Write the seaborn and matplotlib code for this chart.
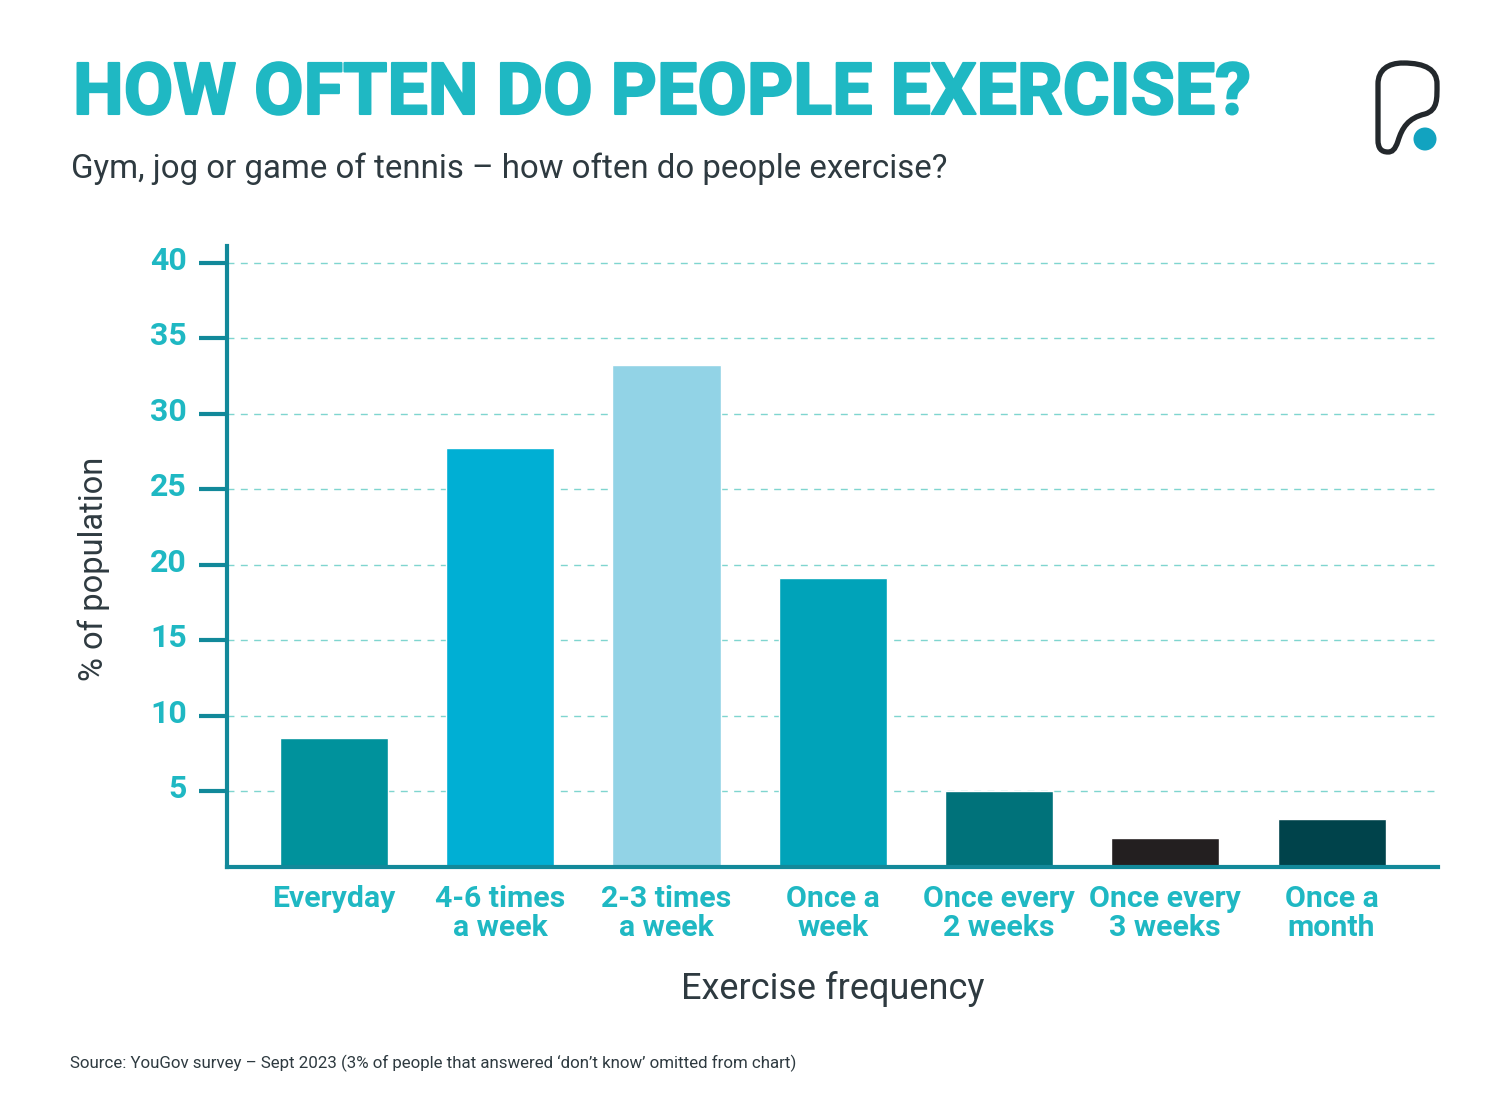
import matplotlib
matplotlib.use("Agg")
import matplotlib.patheffects as pe
import matplotlib.pyplot as plt
from matplotlib.patches import Circle, PathPatch
from matplotlib.path import Path
from matplotlib.transforms import Affine2D, ScaledTranslation
import pandas as pd
import seaborn as sns

FREQUENCY = ["Everyday", "4-6 times\na week", "2-3 times\na week", "Once a\nweek",
             "Once every\n2 weeks", "Once every\n3 weeks", "Once a\nmonth"]
PERCENT = [8.55, 27.75, 33.25, 19.15, 5.05, 1.9, 3.2]
BAR_COLORS = ["#00929c", "#00afd4", "#92d3e6", "#00a3b9", "#00727a", "#231f20", "#00434b"]
Y_TICKS = [5, 10, 15, 20, 25, 30, 35, 40]

TITLE = "HOW OFTEN DO PEOPLE EXERCISE?"
SUBTITLE = "Gym, jog or game of tennis \u2013 how often do people exercise?"
SOURCE = "Source: YouGov survey \u2013 Sept 2023 (3% of people that answered \u2018don\u2019t know\u2019 omitted from chart)"

TEAL = "#1fb8c3"
AXIS_TEAL = "#12899a"
DARK = "#2e3a40"
W, H = 1500, 1102

sns.set_theme(style="white")
plt.rcParams["font.family"] = ["Roboto", "DejaVu Sans"]

fig = plt.figure(figsize=(W / 100, H / 100), dpi=100, facecolor="white")
ax = fig.add_axes([227 / W, 1 - 867 / H, (1438 - 227) / W, (867 - 246) / H])

df = pd.DataFrame({"frequency": FREQUENCY, "percent": PERCENT})
sns.barplot(data=df, x="frequency", y="percent", hue="frequency", palette=BAR_COLORS,
            width=0.65, legend=False, saturation=1, ax=ax, zorder=3)

ax.set_xlim(-0.643, 6.64)
ax.set_ylim(0, 41.1)
ax.set_yticks(Y_TICKS)
ax.yaxis.grid(True, color="#7fd5cf", linestyle=(0, (5, 4.6)), linewidth=1)
ax.set_axisbelow(True)
sns.despine(ax=ax)
for side in ["left", "bottom"]:
    ax.spines[side].set_color(AXIS_TEAL)
    ax.spines[side].set_linewidth(3)
    ax.spines[side].set_zorder(4)

ax.tick_params(axis="y", length=20, width=3, color=AXIS_TEAL, pad=9, labelcolor=TEAL, labelsize=23, left=True)
ax.tick_params(axis="x", length=0, pad=13, labelcolor=TEAL)
# y labels sit a little above their ticks
lift = ScaledTranslation(0, 5 / 100, fig.dpi_scale_trans)
for lab in ax.get_yticklabels():
    lab.set_fontweight("bold")
    lab.set_transform(lab.get_transform() + lift)
for lab in ax.get_xticklabels():
    lab.set_fontweight("bold")
    lab.set_fontsize(21.8)
    lab.set_linespacing(1.03)

ax.set_xlabel("Exercise frequency", fontsize=26, color=DARK, labelpad=21)
ax.set_ylabel("% of population", fontsize=23.5, color=DARK)
ax.yaxis.set_label_coords((110 - 227) / (1438 - 227), (867 - 569) / (867 - 246))

title = fig.text(73 / W, 1 - 114 / H, TITLE, fontsize=51.7, fontweight="bold", color=TEAL, va="baseline")
title.set_path_effects([pe.withStroke(linewidth=1.5, foreground=TEAL)])
fig.text(71 / W, 1 - 178 / H, SUBTITLE, fontsize=23.8, color=DARK, va="baseline")
fig.text(70 / W, 1 - 1068 / H, SOURCE, fontsize=12.2, color=DARK, va="baseline")

# logo, drawn in reference pixel coordinates
px = Affine2D().scale(1, -1).translate(0, H)
logo = Path(
    [(1403, 63),
     (1426, 63), (1437, 70), (1437, 84),
     (1437, 98), (1438, 110), (1425, 114),
     (1408, 118), (1402, 128), (1398, 141),
     (1395, 150), (1392, 152), (1388, 152),
     (1381, 152), (1378, 148), (1378, 140),
     (1378, 120), (1378, 100), (1378, 84),
     (1378, 70), (1388, 63), (1403, 63)],
    [Path.MOVETO] + [Path.CURVE4] * 21,
)
fig.add_artist(PathPatch(logo, fill=False, edgecolor="#23282c", linewidth=3.8, transform=px))
fig.add_artist(Circle((1425, 139), 11.5, facecolor="#12a3c0", edgecolor="none", transform=px))

fig.savefig("out.png", dpi=100)
